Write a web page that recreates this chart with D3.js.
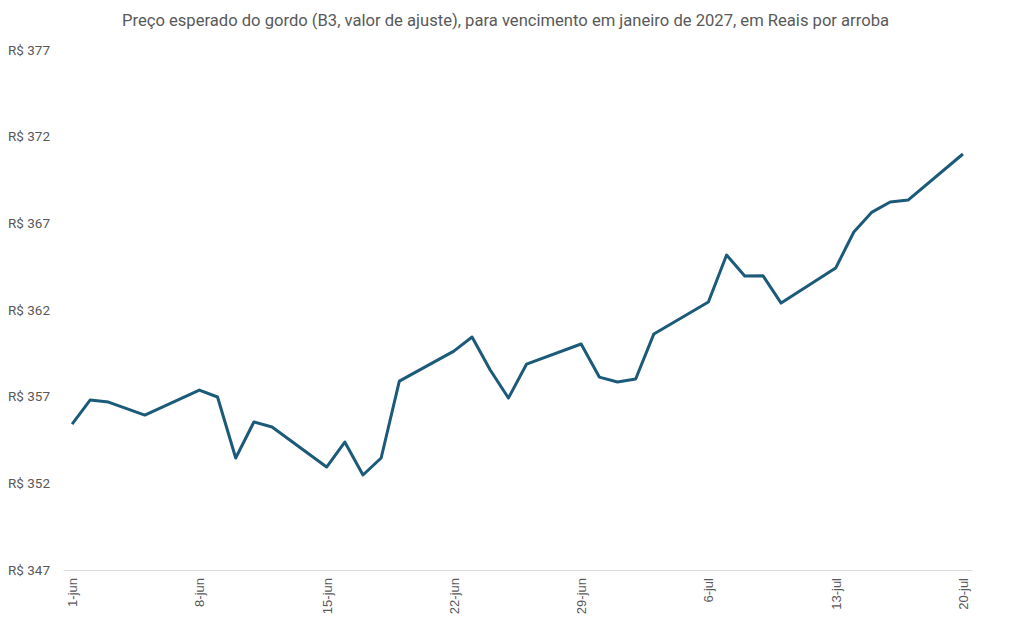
<!DOCTYPE html>
<html>
<head>
<meta charset="utf-8">
<script src="https://cdn.jsdelivr.net/npm/d3@7"></script>
<style>
  html, body { margin: 0; padding: 0; background: #fff; }
  svg text { font-family: "Liberation Sans Narrow", "Roboto", "Liberation Sans", sans-serif; fill: #595959; }
</style>
</head>
<body>
<div id="chart"></div>
<script>
// trading days (B3), June-July 2026
const dates = [
  '2026-06-01', '2026-06-02', '2026-06-03', '2026-06-05',
  '2026-06-08', '2026-06-09', '2026-06-10', '2026-06-11', '2026-06-12',
  '2026-06-15', '2026-06-16', '2026-06-17', '2026-06-18', '2026-06-19',
  '2026-06-22', '2026-06-23', '2026-06-24', '2026-06-25', '2026-06-26',
  '2026-06-29', '2026-06-30', '2026-07-01', '2026-07-02', '2026-07-03',
  '2026-07-06', '2026-07-07', '2026-07-08', '2026-07-09', '2026-07-10',
  '2026-07-13', '2026-07-14', '2026-07-15', '2026-07-16', '2026-07-17',
  '2026-07-20'
];

const prices = [
  355.42, 356.81, 356.69, 355.94,
  357.38, 356.98, 353.46, 355.54, 355.25,
  352.94, 354.38, 352.48, 353.46, 357.90,
  359.63, 360.44, 358.54, 356.92, 358.88,
  360.04, 358.13, 357.85, 358.02, 360.62,
  362.46, 365.17, 363.96, 363.98, 362.40,
  364.42, 366.50, 367.65, 368.23, 368.35,
  371.00
];

const tickDates = ['2026-06-01', '2026-06-08', '2026-06-15', '2026-06-22', '2026-06-29', '2026-07-06', '2026-07-13', '2026-07-20'];
const yTicks = [347, 352, 357, 362, 367, 372, 377];

const title = 'Preço esperado do gordo (B3, valor de ajuste), para vencimento em janeiro de 2027, em Reais por arroba';

const width = 1011, height = 630;
const margin = { top: 50, right: 39, bottom: 60, left: 63 };

const parse = d3.timeParse('%Y-%m-%d');
const data = dates.map((d, i) => ({ date: parse(d), value: prices[i] }));

const svg = d3.select('#chart').append('svg')
  .attr('width', width)
  .attr('height', height);

const first = parse(dates[0]), last = parse(dates[dates.length - 1]);
const x = d3.scaleTime()
  .domain([d3.timeHour.offset(first, -12), d3.timeHour.offset(last, 12)])
  .range([margin.left, width - margin.right]);

const y = d3.scaleLinear()
  .domain([347, 377])
  .range([height - margin.bottom, margin.top]);

svg.append('text')
  .attr('x', width / 2)
  .attr('y', 26)
  .attr('text-anchor', 'middle')
  .style('font-size', '16.6px')
  .text(title);

// y labels, no gridlines
svg.append('g')
  .selectAll('text')
  .data(yTicks)
  .enter().append('text')
    .attr('x', 8)
    .attr('y', d => y(d))
    .attr('dy', '0.35em')
    .style('font-size', '13.5px')
    .text(d => 'R$ ' + d);

// x axis
const xAxis = svg.append('g')
  .attr('transform', 'translate(0,' + y(347) + ')')
  .call(d3.axisBottom(x).tickValues(tickDates.map(parse)).tickSize(0)
    .tickFormat(d => d.getDate() + '-' + (d.getMonth() === 5 ? 'jun' : 'jul')));

xAxis.select('.domain').attr('stroke', '#d9d9d9').attr('stroke-width', 1.2);
xAxis.selectAll('text')
  .attr('transform', 'rotate(-90)')
  .attr('text-anchor', 'end')
  .attr('x', -8)
  .attr('y', 0)
  .attr('dy', '0.35em')
  .style('font-size', '13px')
  .style('font-family', '"Liberation Sans", "Roboto", sans-serif')
  .attr('fill', '#595959');

const line = d3.line()
  .x(d => x(d.date))
  .y(d => y(d.value));

svg.append('path')
  .datum(data)
  .attr('fill', 'none')
  .attr('stroke', '#1b5b79')
  .attr('stroke-width', 3)
  .attr('stroke-linejoin', 'round')
  .attr('d', line);
</script>
</body>
</html>
